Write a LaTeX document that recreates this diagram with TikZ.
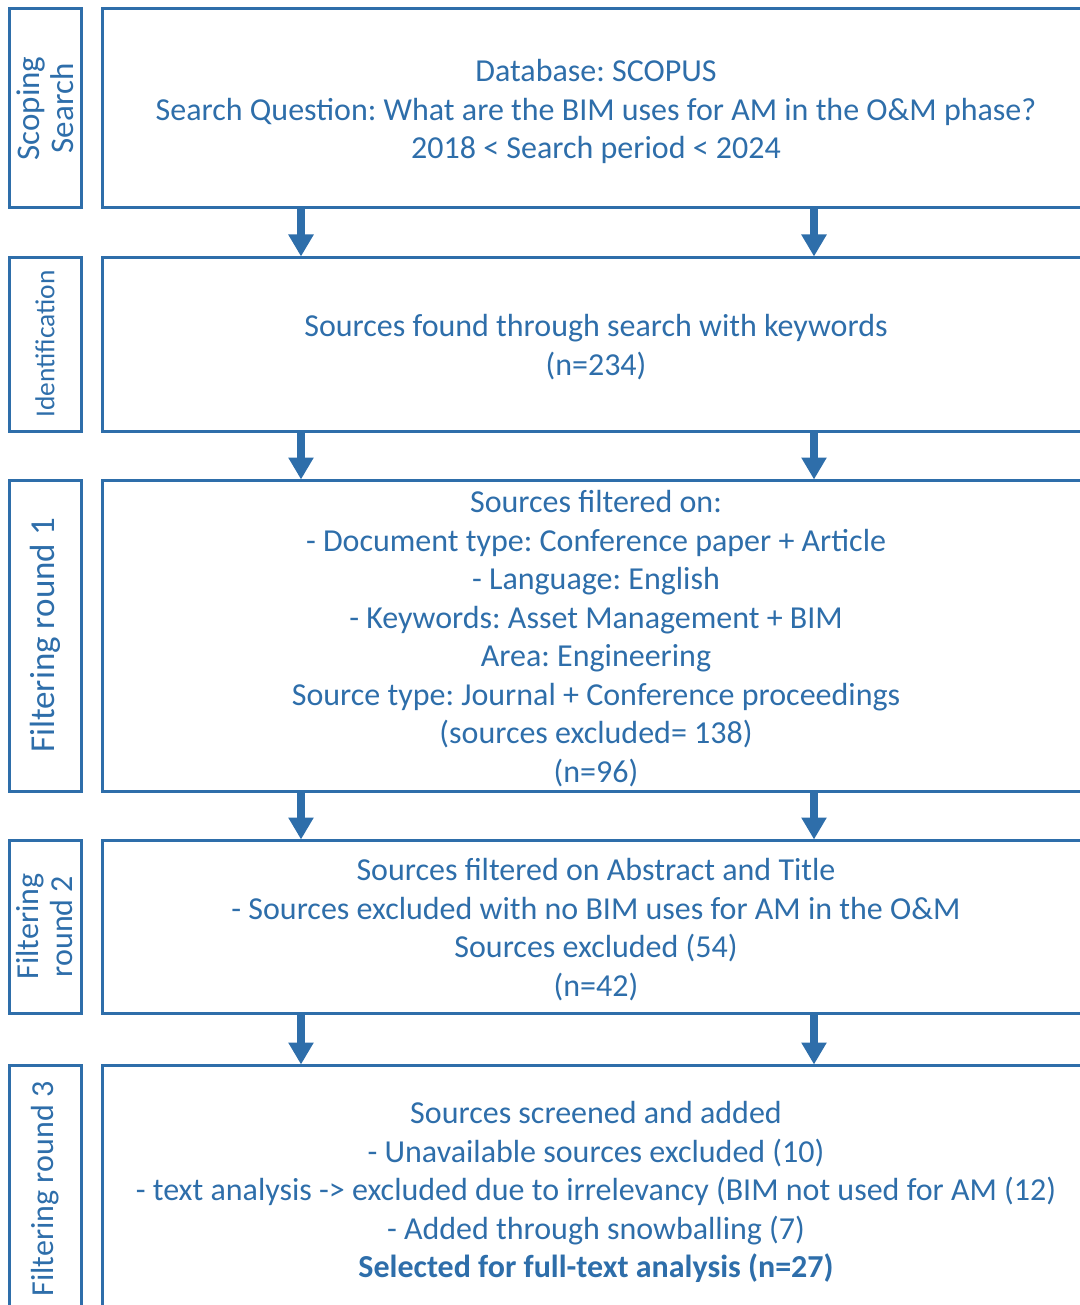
\documentclass[tikz,border=0pt]{standalone}
\usepackage{fontspec}
\setmainfont{Carlito}
\usetikzlibrary{arrows.meta}
\definecolor{flowblue}{RGB}{46,110,170}
\begin{document}
\frenchspacing
\begin{tikzpicture}[x=0.5pt,y=-0.5pt,
  mainbox/.style={draw=flowblue,line width=1.5pt,minimum width=494pt,inner sep=0pt},
  maintext/.style={text=flowblue,align=center,font=\fontsize{16}{19.25}\selectfont,inner sep=0pt},
  sidebox/.style={draw=flowblue,line width=1.5pt,minimum width=36pt,inner sep=0pt},
  sidetext/.style={rotate=90,text=flowblue,align=center,inner sep=0pt},
  flowarrow/.style={draw=flowblue,line width=4pt,-{Triangle[width=12pt,length=11pt]},shorten >=-0.5pt}]
\useasboundingbox (0,0) rectangle (1080,1305);
\clip (0,0) rectangle (1080,1305);

% main boxes
\node[mainbox,minimum height=99.5pt] (b1) at (596,108.5) {};
\node[mainbox,minimum height=87pt] (b2) at (596,344) {};
\node[mainbox,minimum height=155.5pt] (b3) at (596,635.5) {};
\node[mainbox,minimum height=86.5pt] (b4) at (596,926.5) {};
\node[mainbox,minimum height=124pt] (b5) at (596,1189) {};

% box texts
\node[maintext] (m1) at (596,111.5) {Database: SCOPUS\\Search Question: What are the BIM uses for AM in the O\&M phase?\\2018 < Search period < 2024};
\node[maintext] (m2) at (596,347) {Sources found through search with keywords\\(n=234)};
\node[maintext] (m3) at (596,638.5) {Sources filtered on:\\- Document type: Conference paper + Article\\- Language: English\\- Keywords: Asset Management + BIM\\Area: Engineering\\Source type: Journal + Conference proceedings\\(sources excluded= 138)\\(n=96)};
\node[maintext] (m4) at (596,929.5) {Sources filtered on Abstract and Title\\- Sources excluded with no BIM uses for AM in the O\&M\\Sources excluded (54)\\(n=42)};
\node[maintext] (m5) at (596,1192) {Sources screened and added\\- Unavailable sources excluded (10)\\- text analysis -> excluded due to irrelevancy (BIM not used for AM (12)\\- Added through snowballing (7)\\\textbf{Selected for full-text analysis (n=27)}};

% side label boxes
\node[sidebox,minimum height=99.5pt] (s1) at (45,108.5) {};
\node[sidebox,minimum height=87pt] (s2) at (45,344) {};
\node[sidebox,minimum height=155.5pt] (s3) at (45,635.5) {};
\node[sidebox,minimum height=86.5pt] (s4) at (45,926.5) {};
\node[sidebox,minimum height=124pt] (s5) at (45,1189) {};

\node[sidetext,font=\fontsize{16.5}{17}\selectfont] (t1) at (s1) {Scoping\\Search};
\node[sidetext,font=\fontsize{13.7}{16}\selectfont] (t2) at (s2) {Identification};
\node[sidetext,font=\fontsize{17.5}{20}\selectfont] (t3) at (s3) {Filtering round 1};
\node[sidetext,font=\fontsize{16}{17}\selectfont] (t4) at (s4) {Filtering\\round 2};
\node[sidetext,font=\fontsize{16}{18}\selectfont] (t5) at (s5) {Filtering round 3};

% arrow columns
\coordinate (ca) at (301,0);
\coordinate (cb) at (814,0);
\foreach \u/\v in {b1/b2,b2/b3,b3/b4,b4/b5}{
  \draw[flowarrow] (\u.south -| ca) -- (\v.north -| ca);
  \draw[flowarrow] (\u.south -| cb) -- (\v.north -| cb);
}
\end{tikzpicture}
\end{document}
